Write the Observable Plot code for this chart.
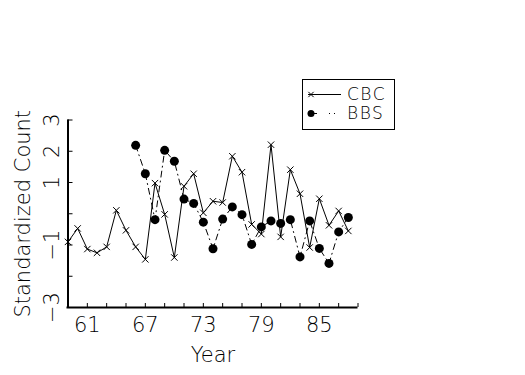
<!DOCTYPE html>
<html>
<head>
<meta charset="utf-8">
<script src="https://cdn.jsdelivr.net/npm/d3@7"></script>
<script src="https://cdn.jsdelivr.net/npm/@observablehq/plot@0.6"></script>
<style>
  html, body { margin: 0; padding: 0; background: #fff; }
  #chart svg { display: block; }
</style>
</head>
<body>
<div id="chart"></div>
<script>
// Data
const cbcYears = d3.range(59, 89);
const cbcValues = [-0.90, -0.47, -1.13, -1.25, -1.06, 0.11, -0.53, -1.06, -1.46, 0.98,
                   -0.02, -1.40, 0.88, 1.28, 0.03, 0.40, 0.36, 1.84, 1.33, -0.34,
                   -0.65, 2.21, -0.74, 1.41, 0.64, -1.08, 0.48, -0.37, 0.09, -0.55];
const bbsYears = d3.range(66, 89);
const bbsValues = [2.19, 1.28, -0.19, 2.03, 1.68, 0.47, 0.33, -0.27, -1.12, -0.17,
                   0.22, -0.03, -0.98, -0.42, -0.23, -0.31, -0.19, -1.38, -0.23, -1.11,
                   -1.59, -0.58, -0.12];
const xTicks = d3.range(61, 90, 2);
const xTickLabels = [61, 67, 73, 79, 85];
const yTicks = d3.range(-3, 4);
const yTickLabels = [3, 2, 1, -1, -3];
const xDomain = [59, 89];
const yDomain = [-3, 3];

const cbc = cbcYears.map((x, i) => ({x, y: cbcValues[i]}));
const bbs = bbsYears.map((x, i) => ({x, y: bbsValues[i]}));

const W = 525, H = 375;
const mL = 67.5, mR = 167.5, mT = 119.5, mB = 68;
const frameW = W - mL - mR, frameH = H - mT - mB;
const font = "'DejaVu Sans', sans-serif";
const fmt = d => (d < 0 ? "\u2212" + Math.abs(d) : String(d));
const txt = {fontSize: 21, fontWeight: 200, fill: "#000", letterSpacing: 1.5};

const plot = Plot.plot({
  width: W, height: H,
  marginLeft: mL, marginRight: mR, marginTop: mT, marginBottom: mB,
  style: {fontFamily: font, background: "#fff", color: "#000", overflow: "visible"},
  x: {type: "linear", domain: xDomain, axis: null},
  y: {type: "linear", domain: yDomain, axis: null},
  marks: [
    // ticks (inward)
    Plot.ruleX(xTicks, {x: d => d, stroke: "#000", strokeWidth: 1, insetTop: frameH - 4}),
    Plot.ruleY(yTicks, {y: d => d, stroke: "#000", strokeWidth: 1, insetRight: frameW - 5}),
    // axis lines
    Plot.ruleX([xDomain[0]], {stroke: "#000", strokeWidth: 2}),
    Plot.ruleY([yDomain[0]], {stroke: "#000", strokeWidth: 2, insetLeft: -1}),
    // tick labels
    Plot.text(xTickLabels, {x: d => d, frameAnchor: "bottom", dy: 18, lineAnchor: "middle",
      text: d => String(d), ...txt}),
    Plot.text(yTickLabels, {y: d => d, frameAnchor: "left", dx: -16, rotate: -90,
      textAnchor: "middle", lineAnchor: "middle", text: fmt, ...txt}),
    // axis titles
    Plot.text(["Year"], {frameAnchor: "bottom", dy: 48, lineAnchor: "middle",
      text: d => d, ...txt}),
    Plot.text(["Standardized Count"], {frameAnchor: "left", dx: -45, rotate: -90,
      textAnchor: "middle", lineAnchor: "middle", text: d => d, ...txt}),
    // series
    Plot.line(bbs, {x: "x", y: "y", stroke: "#000", strokeWidth: 1, strokeDasharray: "6,4,1,4"}),
    Plot.dot(bbs, {x: "x", y: "y", r: 4.5, fill: "#000", stroke: "none"}),
    Plot.line(cbc, {x: "x", y: "y", stroke: "#000", strokeWidth: 1}),
    Plot.dot(cbc, {x: "x", y: "y", symbol: "times", r: 3, stroke: "#000", strokeWidth: 1})
  ]
});

document.getElementById("chart").appendChild(plot);

// Legend box
const svg = d3.select(plot);
const lg = svg.append("g").attr("font-family", font).attr("font-size", 17)
  .attr("font-weight", 200).attr("text-anchor", "start").attr("letter-spacing", 1.5);
lg.append("rect").attr("x", 302.5).attr("y", 79.5).attr("width", 92).attr("height", 50)
  .attr("fill", "none").attr("stroke", "#000").attr("stroke-width", 1);
lg.append("line").attr("x1", 308).attr("x2", 341).attr("y1", 94.5).attr("y2", 94.5).attr("stroke", "#000");
lg.append("path").attr("d", d3.symbol(d3.symbolTimes, 20)()).attr("transform", "translate(311,94.5)")
  .attr("stroke", "#000").attr("fill", "none");
lg.append("text").attr("x", 347).attr("y", 94.5).attr("dy", "0.35em").text("CBC");
lg.append("line").attr("x1", 311).attr("x2", 336).attr("y1", 113.5).attr("y2", 113.5)
  .attr("stroke", "#000").attr("stroke-dasharray", "6,12,1,4,1,4");
lg.append("circle").attr("cx", 311).attr("cy", 113.5).attr("r", 3.5).attr("fill", "#000");
lg.append("text").attr("x", 347).attr("y", 113.5).attr("dy", "0.35em").text("BBS");
</script>
</body>
</html>
